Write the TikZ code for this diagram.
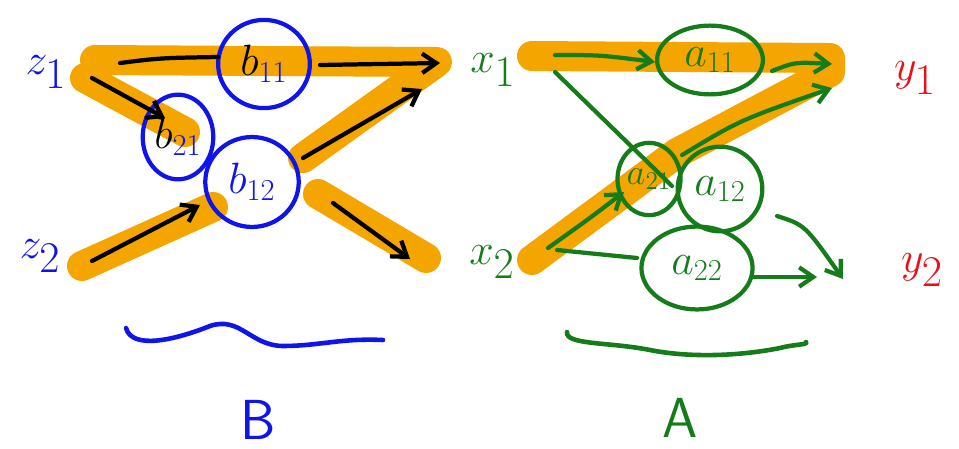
\documentclass[tikz,border=0pt]{standalone}
\usetikzlibrary{arrows.meta,shapes.geometric}
\definecolor{hblue}{RGB}{15,20,235}
\definecolor{hgreen}{RGB}{20,125,25}
\definecolor{horange}{RGB}{245,165,0}
\definecolor{hred}{RGB}{235,15,25}
\begin{document}
\begin{tikzpicture}[x=0.567pt,y=-0.567pt,
  hl/.style={draw=horange,line width=17pt,line cap=round,line join=round},
  ink/.style={line width=2.4pt,line cap=round},
  arr/.style={ink,-{Straight Barb[length=8pt,width=11pt,line width=2.4pt]}},
  ring/.style={ellipse,draw,line width=2.4pt,inner sep=0pt},
  lbl/.style={font=\fontsize{34}{36}\selectfont},
  big/.style={font=\fontsize{32}{34}\sffamily,inner sep=1pt},
  inl/.style={font=\fontsize{26}{28}\selectfont},
  wave/.style={line width=2.6pt,line cap=round}]
\useasboundingbox (0,0) rectangle (959,449);
% ---------- highlighter strokes ----------
\coordinate (h1a) at (95,60);  \coordinate (h1b) at (437,62); \coordinate (h1c) at (303,158);
\coordinate (h2a) at (85,78);  \coordinate (h2b) at (185,132);
\coordinate (h3a) at (82,266); \coordinate (h3b) at (213,207);
\coordinate (h4a) at (318,194);\coordinate (h4b) at (426,258);
\coordinate (h5a) at (532,56); \coordinate (h5b) at (830,58); \coordinate (h5c) at (830,72);
\coordinate (h5d) at (677,153);\coordinate (h5e) at (532,260);
\draw[hl] (h1a) -- (h1b) -- (h1c);
\draw[hl] (h2a) -- (h2b);
\draw[hl] (h3a) -- (h3b);
\draw[hl] (h4a) -- (h4b);
\draw[hl] (h5a) -- (h5b) -- (h5c) -- (h5d) -- (h5e);
% ---------- labels ----------
\node[lbl,text=hblue] (z1) at (46,72) {$z_1$};
\node[lbl,text=hblue] (z2) at (40,256) {$z_2$};
\node[lbl,text=hgreen] (x1) at (493,70) {$x_1$};
\node[lbl,text=hgreen] (x2) at (492,262) {$x_2$};
\node[lbl,text=hred] (y1) at (915,78) {$y_1$};
\node[lbl,text=hred] (y2) at (922,270) {$y_2$};
\node[big,text=hblue] (B) at (258,420) {B};
\node[big,text=hgreen] (A) at (680,418) {A};
% ---------- circles ----------
\node[ring,draw=hblue,minimum width=52pt,minimum height=50pt,inl,text=hblue] (b11) at (264,64) {$\textcolor{black}{b}_{11}$};
\node[ring,draw=hblue,minimum width=40pt,minimum height=48pt,inl,text=hblue] (b21) at (178,137) {$\textcolor{black}{b}_{21}$};
\node[ring,draw=hblue,minimum width=53pt,minimum height=51pt,inl,text=hblue] (b12) at (252,182) {$b_{12}$};
\node[ring,draw=hgreen,minimum width=60pt,minimum height=39pt,inl,text=hgreen] (a11) at (710,60) {$a_{11}$};
\node[ring,draw=hgreen,minimum width=33pt,minimum height=41pt,inl,text=hgreen,font=\fontsize{20}{22}\selectfont] (a21) at (649,179) {$a_{21}$};
\node[ring,draw=hgreen,minimum width=48pt,minimum height=48pt,inl,text=hgreen] (a12) at (720,189) {$a_{12}$};
\node[ring,draw=hgreen,minimum width=63pt,minimum height=47pt,inl,text=hgreen] (a22) at (697,268) {$a_{22}$};
% ---------- left connectors ----------
\coordinate (l1a) at (120,63); \coordinate (l1b) at (218,57);
\coordinate (l2a) at (320,65); \coordinate (l2b) at (440,63);
\coordinate (l3a) at (92,78);  \coordinate (l3b) at (165,118);
\coordinate (l4a) at (92,261); \coordinate (l4b) at (200,205);
\coordinate (l5a) at (303,158);\coordinate (l5b) at (422,89);
\coordinate (l6a) at (333,203);\coordinate (l6b) at (410,259);
\draw[ink] (l1a) .. controls (160,58) .. (l1b);
\draw[arr] (l2a) -- (l2b);
\draw[arr] (l3a) -- (l3b);
\draw[arr] (l4a) -- (l4b);
\draw[arr] (l5a) -- (l5b);
\draw[arr] (l6a) -- (l6b);
% ---------- right connectors ----------
\coordinate (r1a) at (555,55); \coordinate (r1b) at (655,62);
\coordinate (r2a) at (772,71); \coordinate (r2b) at (832,64);
\coordinate (r3a) at (555,72); \coordinate (r3b) at (672,186);
\coordinate (r4a) at (548,248);\coordinate (r4b) at (624,192);
\coordinate (r5a) at (682,155);\coordinate (r5b) at (832,88);
\coordinate (r6a) at (777,216);\coordinate (r6b) at (843,279);
\coordinate (r7a) at (557,250);\coordinate (r7b) at (637,258);
\coordinate (r8a) at (753,277);\coordinate (r8b) at (817,277);
\draw[arr,draw=hgreen] (r1a) .. controls (600,55) .. (r1b);
\draw[arr,draw=hgreen] (r2a) .. controls (795,62) .. (r2b);
\draw[ink,draw=hgreen] (r3a) -- (r3b);
\draw[arr,draw=hgreen] (r4a) .. controls (590,218) .. (r4b);
\draw[arr,draw=hgreen] (r5a) .. controls (740,120) .. (r5b);
\draw[arr,draw=hgreen] (r6a) .. controls (805,225) .. (r6b);
\draw[ink,draw=hgreen] (r7a) -- (r7b);
\draw[arr,draw=hgreen] (r8a) -- (r8b);
% ---------- underline waves ----------
\coordinate (w1a) at (126,328); \coordinate (w1b) at (383,340);
\draw[wave,draw=hblue] (w1a) .. controls (132,350) and (175,340) .. (210,326)
  .. controls (240,316) and (250,345) .. (282,346)
  .. controls (320,346) and (340,338) .. (w1b);
\coordinate (w2a) at (567,332); \coordinate (w2b) at (806,342);
\draw[wave,draw=hgreen] (w2a) .. controls (565,345) and (610,342) .. (650,350)
  .. controls (690,358) and (740,356) .. (780,348)
  .. controls (795,344) and (808,345) .. (w2b);
\end{tikzpicture}
\end{document}
